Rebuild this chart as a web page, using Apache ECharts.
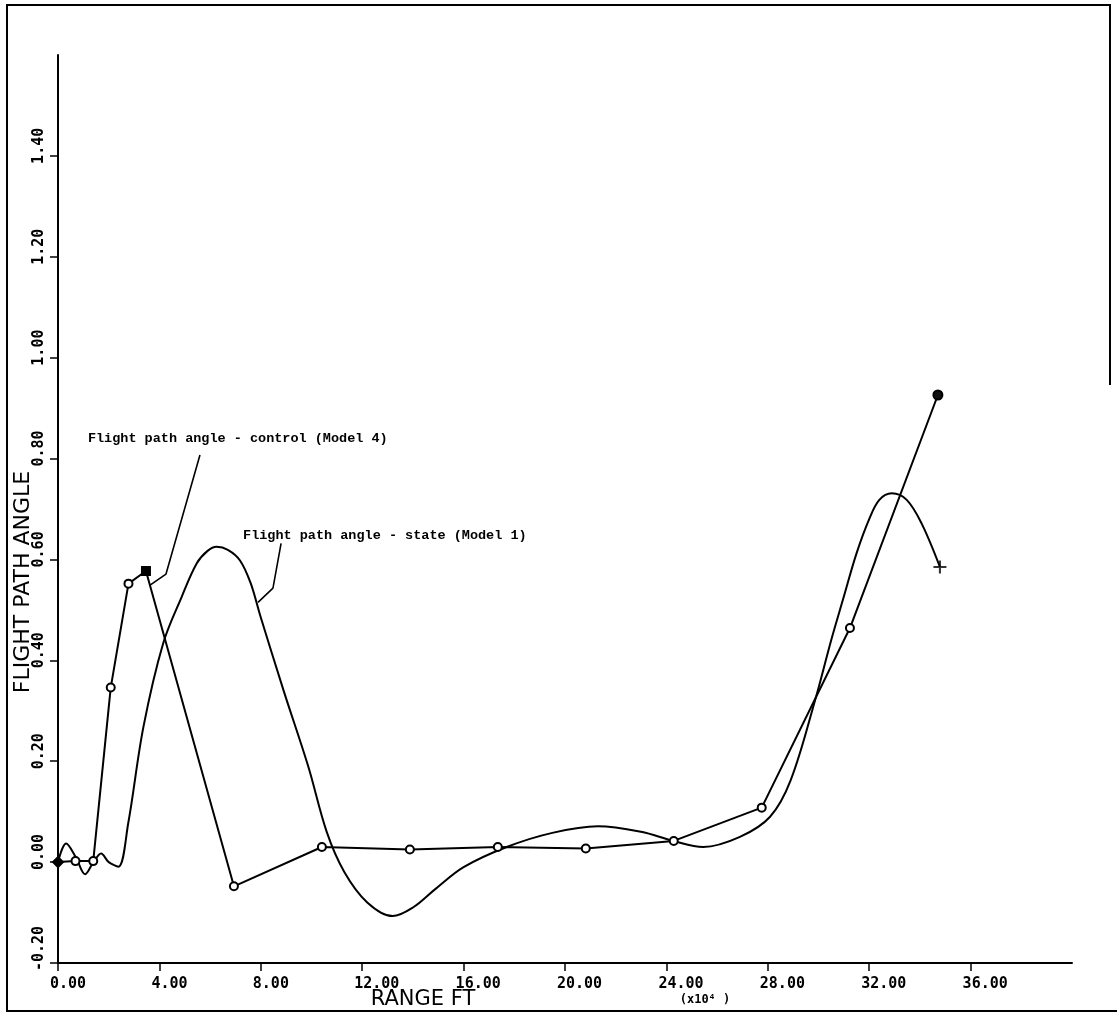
<!DOCTYPE html>
<html><head><meta charset="utf-8">
<script src="https://cdn.jsdelivr.net/npm/echarts@6/dist/echarts.min.js"></script>
<style>html,body{margin:0;padding:0;background:#fff}#c{width:1117px;height:1015px}</style>
</head><body><div id="c"></div>
<script>
// Flight path angle - control (Model 4): marker points
const controlX = [0, 0.69, 1.39, 2.08, 2.78, 3.47, 6.94, 10.41, 13.88, 17.35, 20.82, 24.29, 27.76, 31.24, 34.71];
const controlY = [0.0, 0.002, 0.002, 0.346, 0.552, 0.577, -0.048, 0.030, 0.025, 0.030, 0.027, 0.042, 0.108, 0.464, 0.926];
// Flight path angle - state (Model 1): traced curve
const stateX = [0, 0.32, 0.7, 1.07, 1.4, 1.70, 2.0, 2.38, 2.77, 3.37, 4.15, 4.88, 5.47, 5.9, 6.26, 6.7, 7.18, 7.6, 7.97, 8.9, 9.87, 10.6, 11.3, 12.2, 13.2, 14.0, 14.87, 16.0, 17.7, 19.5, 21.3, 23.0, 24.27, 25.45, 26.9, 28.09, 28.9, 29.86, 30.5, 30.98, 31.5, 32.0, 32.4, 32.89, 33.48, 34.07, 34.79];
const stateY = [0, 0.037, 0.010, -0.024, 0.0, 0.017, 0.0, -0.009, 0.077, 0.268, 0.434, 0.526, 0.592, 0.617, 0.625, 0.619, 0.598, 0.553, 0.49, 0.34, 0.19, 0.06, -0.02, -0.08, -0.107, -0.09, -0.054, -0.01, 0.030, 0.058, 0.071, 0.060, 0.042, 0.030, 0.050, 0.090, 0.162, 0.32, 0.44, 0.523, 0.612, 0.68, 0.718, 0.731, 0.718, 0.671, 0.585];
// tick values
const xTicks = [0, 4, 8, 12, 16, 20, 24, 28, 32, 36];
const yTicks = [-0.2, 0, 0.2, 0.4, 0.6, 0.8, 1.0, 1.2, 1.4];
// annotations (text, anchor in data coords) and leader lines
const noteControl = 'Flight path angle - control (Model 4)';
const noteControlAt = [1.18, 0.840];
const leaderControlX = [5.60, 4.26, 3.63];
const leaderControlY = [0.807, 0.571, 0.549];
const noteState = 'Flight path angle - state (Model 1)';
const noteStateAt = [7.30, 0.648];
const leaderStateX = [8.80, 8.48, 7.89];
const leaderStateY = [0.632, 0.543, 0.515];

const zip = (a, b) => a.map((v, i) => [v, b[i]]);
const lastIdx = controlX.length - 1;
const controlData = zip(controlX, controlY).map((p, i) => {
  if (i === 0) return {value: p, symbol: 'diamond', symbolSize: 10, itemStyle: {color: '#000'}};
  if (i === 5) return {value: p, symbol: 'rect', symbolSize: 8, itemStyle: {color: '#000'}};
  if (i === lastIdx) return {value: p, symbol: 'circle', symbolSize: 9, itemStyle: {color: '#111'}};
  return p;
});
const lblFont = {fontFamily: 'DejaVu Sans Mono', fontSize: 15, fontWeight: 'bold', color: '#000'};

const chart = echarts.init(document.getElementById('c'));
chart.setOption({
  animation: false,
  backgroundColor: '#fff',
  grid: {left: 58, right: 45, top: 55, bottom: 52, containLabel: false},
  xAxis: {
    type: 'value', min: 0, max: 40,
    axisLine: {onZero: false, lineStyle: {color: '#000', width: 2}},
    axisTick: {customValues: xTicks, length: 8, lineStyle: {color: '#000', width: 1.5}},
    axisLabel: Object.assign({customValues: xTicks, margin: 14, align: 'left', padding: [0, 0, 0, -8],
      formatter: v => v.toFixed(2)}, lblFont),
    splitLine: {show: false}
  },
  yAxis: {
    type: 'value', min: -0.2, max: 1.6,
    axisLine: {onZero: false, lineStyle: {color: '#000', width: 2}},
    axisTick: {customValues: yTicks, length: 8, lineStyle: {color: '#000', width: 1.5}},
    axisLabel: Object.assign({customValues: yTicks, rotate: 90, margin: 11, align: 'left', verticalAlign: 'bottom',
      padding: [0, 0, 0, -8], formatter: v => v.toFixed(2)}, lblFont),
    splitLine: {show: false}
  },
  series: [
    {type: 'line', data: zip(stateX, stateY), smooth: 0.35, symbol: 'none',
     lineStyle: {color: '#000', width: 2}, z: 2},
    {type: 'scatter', data: [[stateX[stateX.length - 1], stateY[stateY.length - 1]]],
     symbol: 'path://M4.2,0 H5.8 V4.2 H10 V5.8 H5.8 V10 H4.2 V5.8 H0 V4.2 H4.2 Z', symbolSize: 13,
     itemStyle: {color: '#000'}, z: 4},
    {type: 'line', data: controlData, smooth: false, symbol: 'circle', symbolSize: 8, showAllSymbol: true,
     lineStyle: {color: '#000', width: 2},
     itemStyle: {color: '#fff', borderColor: '#000', borderWidth: 2}, z: 3},
    {type: 'line', data: zip(leaderControlX, leaderControlY), symbol: 'none',
     lineStyle: {color: '#000', width: 1.6}, z: 2},
    {type: 'line', data: zip(leaderStateX, leaderStateY), symbol: 'none',
     lineStyle: {color: '#000', width: 1.6}, z: 2}
  ]
});

const pc = chart.convertToPixel({gridIndex: 0}, noteControlAt);
const ps = chart.convertToPixel({gridIndex: 0}, noteStateAt);
const noteFont = {fontFamily: 'Liberation Mono', fontSize: 13.5, fontWeight: 'bold', fill: '#000'};
const frameStyle = {stroke: '#000', lineWidth: 2};
chart.setOption({
  graphic: [
    {type: 'polyline', shape: {points: [[1110, 385], [1110, 5], [7, 5], [7, 1011], [1117, 1011]]}, style: frameStyle, silent: true},
    {type: 'text', x: pc[0], y: pc[1], style: Object.assign({text: noteControl, align: 'left', verticalAlign: 'middle'}, noteFont)},
    {type: 'text', x: ps[0], y: ps[1], style: Object.assign({text: noteState, align: 'left', verticalAlign: 'middle'}, noteFont)},
    {type: 'text', x: 423, y: 1000, style: {text: 'RANGE FT', fontFamily: 'DejaVu Sans', fontSize: 21, fill: '#000', align: 'center', verticalAlign: 'middle'}},
    {type: 'text', x: 705, y: 1000, style: {text: '(x10\u2074 )', fontFamily: 'DejaVu Sans Mono', fontSize: 12, fontWeight: 'bold', fill: '#000', align: 'center', verticalAlign: 'middle'}},
    {type: 'text', x: 23, y: 582, rotation: Math.PI / 2, style: {text: 'FLIGHT PATH ANGLE', fontFamily: 'DejaVu Sans', fontSize: 22, fill: '#000', align: 'center', verticalAlign: 'middle'}}
  ]
});
</script>
</body></html>
